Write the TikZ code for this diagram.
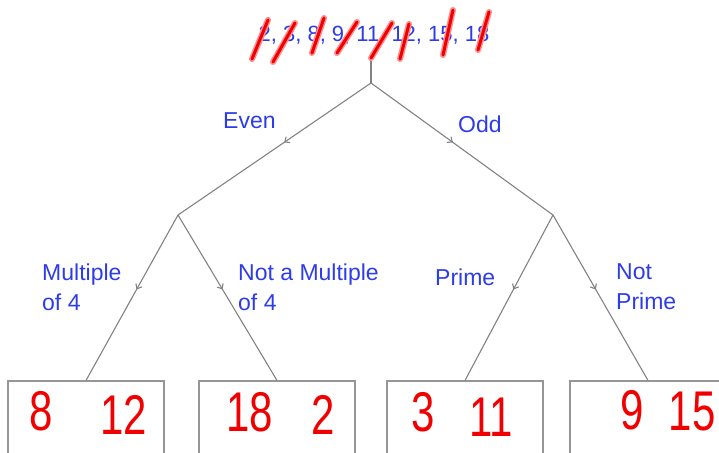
\documentclass[tikz,border=0pt]{standalone}
\usepackage{fontspec}
\setmainfont{Liberation Sans}
\newfontfamily\handfont[FakeStretch=0.75]{Liberation Sans}
\usetikzlibrary{arrows.meta,decorations.markings}
\definecolor{lbl}{RGB}{45,60,235}
\definecolor{edgegray}{RGB}{130,130,130}
\definecolor{boxgray}{RGB}{150,150,150}
\definecolor{ink}{RGB}{240,0,0}
\definecolor{halo}{RGB}{255,140,140}
\begin{document}
\begin{tikzpicture}[x=1pt,y=-1pt,
  branch/.style={draw=edgegray, line width=1.1pt, postaction={decorate},
    decoration={markings, mark=at position 0.45 with {\arrow[edgegray]{Straight Barb[length=4pt,width=7pt]}}}},
  stem/.style={draw=edgegray, line width=1.1pt},
  leafbox/.style={draw=boxgray, line width=1.1pt, minimum width=156pt, minimum height=78pt, inner sep=0pt},
  lab/.style={text=lbl, font=\fontsize{23}{30}\selectfont, inner sep=0pt, anchor=west, align=left},
  toplist/.style={text=lbl, font=\fontsize{22}{26}\selectfont, inner sep=0pt},
  num/.style={text=ink, font=\handfont\fontsize{56}{58}\selectfont, inner sep=0pt},
  slashhalo/.style={draw=halo, line width=6pt, line cap=round},
  slash/.style={draw=ink, line width=3pt, line cap=round}]
\useasboundingbox (0,0) rectangle (719,452);

% list at the top
\node[toplist] (list) at (374,35) {2, 3, 8, 9, 11, 12, 15, 18};

% tree points
\coordinate (stemtop) at (371,58);
\coordinate (root) at (371,83);
\coordinate (even) at (178,215);
\coordinate (odd) at (553,215);

% leaf boxes
\node[leafbox] (b1) at (86,420) {};
\node[leafbox] (b2) at (277,420) {};
\node[leafbox] (b3) at (465,420) {};
\node[leafbox] (b4) at (648,420) {};

% connectors
\draw[stem] (stemtop) -- (root);
\draw[branch] (root) -- (even);
\draw[branch] (root) -- (odd);
\draw[branch] (even) -- (b1.north);
\draw[branch] (even) -- (b2.north);
\draw[branch] (odd) -- (b3.north);
\draw[branch] (odd) -- (b4.north);

% labels
\node[lab] (leven) at (223,121) {Even};
\node[lab] (lodd) at (458,124) {Odd};
\node[lab] (lm4) at (42,287) {Multiple\\of 4};
\node[lab] (lnm4) at (238,287) {Not a Multiple\\of 4};
\node[lab] (lprime) at (435,277) {Prime};
\node[lab] (lnprime) at (616,287) {Not\\Prime};

% handwritten numbers
\node[num] (n8) at (41,411) {8};
\node[num] (n12) at (124,415) {12};
\node[num] (n18) at (250,412) {18};
\node[num] (n2) at (323,415) {2};
\node[num] (n3) at (423,412) {3};
\node[num] (n11) at (491,417) {11};
\node[num] (n9) at (632,410) {9};
\node[num] (n15) at (692,412) {15};

% crossing-out strokes over the list
\foreach \st in {slashhalo, slash}{
  \draw[\st] (252,59) -- (268,20);
  \draw[\st] (273,62) -- (295,23);
  \draw[\st] (312,53) -- (324,18);
  \draw[\st] (337,53) -- (357,22);
  \draw[\st] (371,58) -- (392,23);
  \draw[\st] (400,59) -- (409,24);
  \draw[\st] (443,55) -- (453,10);
  \draw[\st] (478,50) -- (489,12);
}
\end{tikzpicture}
\end{document}
